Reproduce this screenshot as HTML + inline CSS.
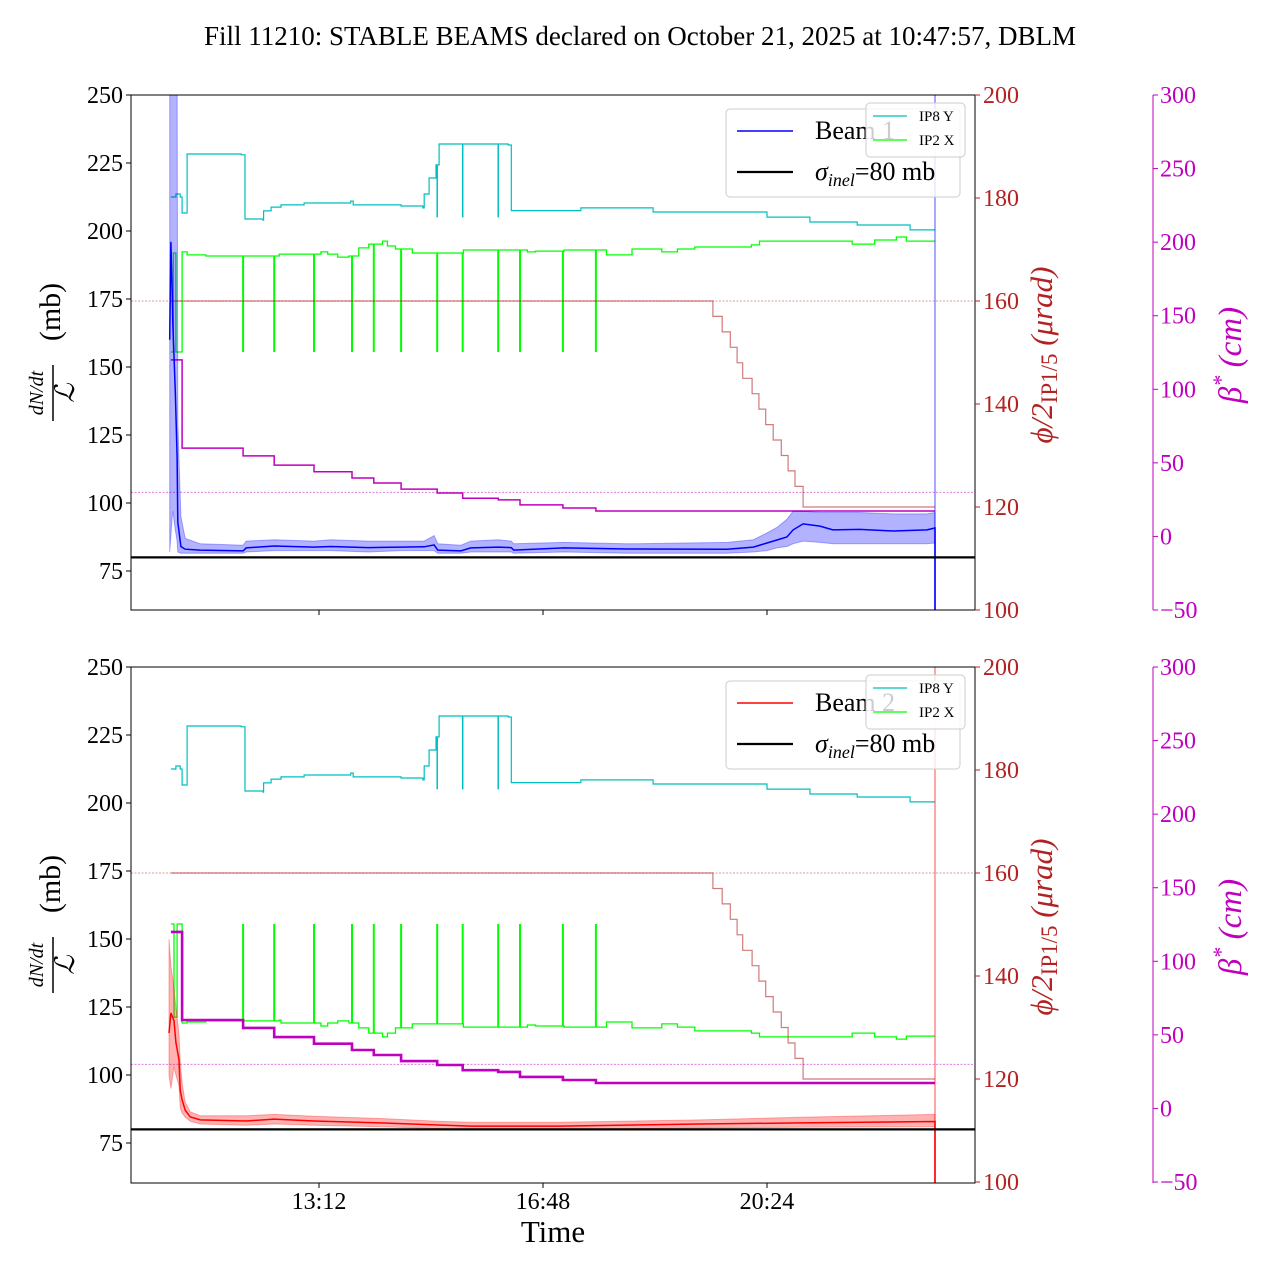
<!DOCTYPE html>
<html><head><meta charset="utf-8">
<style>
html,body{margin:0;padding:0;background:#fff;}
svg{display:block;font-family:"Liberation Serif","DejaVu Serif",serif;}
</style></head>
<body>
<svg id="chart" width="1280" height="1280" viewBox="0 0 1280 1280" xmlns="http://www.w3.org/2000/svg">
<rect x="0" y="0" width="1280" height="1280" fill="#fff"/>
<text x="640" y="45" font-size="27" text-anchor="middle">Fill 11210: STABLE BEAMS declared on October 21, 2025 at 10:47:57, DBLM</text>
<defs>
<clipPath id="clipTop"><rect x="131" y="95" width="844" height="515"/></clipPath>
<clipPath id="clipBot"><rect x="131" y="667" width="844" height="516"/></clipPath>
</defs>
<g id="panels"></g>
</svg>
<script>
// ---- data (time in hours of day) ----
const tickHours = [13.2, 16.8, 20.4];
const tickLabels = ["13:12", "16:48", "20:24"];
const leftTicks = [75, 100, 125, 150, 175, 200, 225, 250];
const redTicks = [100, 120, 140, 160, 180, 200];
const magTicks = [-50, 0, 50, 100, 150, 200, 250, 300];
const endHour = 23.10;
const sigmaInel = 80;
const phiRef = 160;
const betaRef = 30;

const cyanT = [10.82,10.90,10.97,11.00,11.08,11.95,12.01,12.30,12.31,12.43,12.59,12.96,13.71,13.75,14.52,14.87,14.89,14.97,15.08,15.13,16.24,16.29,17.41,18.57,20.40,21.09,21.85,22.70];
const cyanV = [212.5,213.6,212.5,206.6,228.3,228.0,204.4,204.0,207.4,208.8,209.6,210.3,211.0,209.6,209.2,208.5,213.6,219.5,224.3,232.0,231.6,207.5,208.5,207.0,205.1,203.3,202.2,200.4];
const cyanDipT = [15.10, 15.51, 16.08];
const cyanDipV = [205.0, 205.0, 205.0];

const spikeT = [11.98,12.48,13.12,13.73,14.08,14.52,15.10,15.51,16.08,16.43,17.12,17.65];
const spikeV = 155.5;

const green1T = [10.82,10.86,10.90,11.00,11.08,11.38,12.56,13.23,13.34,13.50,13.68,13.84,14.00,14.22,14.30,14.43,14.70,15.52,16.55,16.68,17.14,17.82,18.23,18.71,18.96,19.24,20.15,20.28,21.77,22.13,22.48,22.64];
const green1V = [155.5,191.9,155.5,192.3,191.2,190.8,191.5,192.3,191.5,190.4,190.8,193.8,195.2,196.3,194.5,193.4,191.9,193.0,192.3,192.6,193.0,191.2,193.4,192.3,193.4,194.1,194.9,196.3,195.2,196.7,197.8,196.3];

const green2T = [10.82,10.87,10.92,11.00,11.08,11.38,12.56,12.59,13.23,13.34,13.50,13.68,13.84,14.00,14.22,14.30,14.43,14.70,15.52,16.55,16.68,17.14,17.82,18.23,18.71,18.96,19.24,20.15,20.28,21.77,22.13,22.48,22.64];
const green2V = [155.5,121.3,155.5,119.1,119.5,119.9,120.2,119.1,118.0,119.1,119.9,119.1,117.3,115.4,114.0,115.4,117.3,118.8,117.6,118.4,118.0,117.6,119.5,117.3,118.8,117.6,116.2,115.4,114.0,115.4,114.0,113.2,114.3];

const phiT = [10.82,19.53,19.68,19.81,19.92,20.01,20.16,20.27,20.38,20.50,20.63,20.74,20.85,20.98];
const phiV = [160,157,154,151,148,145,142,139,136,133,130,127,124,120];

const betaT = [10.82,11.00,11.98,12.48,13.12,13.73,14.08,14.52,15.10,15.51,16.08,16.43,17.12,17.65];
const betaV = [120,60,54.7,48.5,44,39.7,36.3,32.2,29.5,26,24.8,21.4,19.3,17.3];

const lum1T = [10.80,10.82,10.84,10.85,10.89,10.92,10.93,10.98,11.05,11.29,11.98,12.03,12.48,13.12,13.39,13.99,14.52,14.89,15.05,15.11,15.48,15.64,16.08,16.29,16.33,17.14,18.15,19.76,20.18,20.40,20.56,20.72,20.82,20.98,21.25,21.46,21.89,22.43,22.97,23.10];
const lum1V = [160,196,178,166,141,117,93,84,83,82.7,82.4,83.5,84.2,83.8,84,83.6,83.8,83.9,84.6,82.7,82.4,83.5,83.8,83.6,82.7,83.5,83.1,83.0,83.8,85.3,86.4,87.5,90.1,92.3,91.5,90.1,90.3,89.7,90.1,90.8];
const lum1Hi = [265,265,265,265,265,265,130,95,87,85,84.5,86,86.5,86,86.5,86,86,86,88,85,84.5,86,86.5,86,85,85.5,85,85.5,86.5,89,91,94,97,97,96.5,96.5,96.5,96,96,96.5];
const lum1Lo = [82,88,95,97,90,86,82,81.5,81.5,81.5,81.5,82,82.5,82.5,82.5,82,82.5,82.5,82.5,81.5,81.5,82,82,82,81.5,82,81.5,81.5,82,82.5,83.5,84,85,86,85.5,85,85,85,85,85.3];

const lum2T = [10.79,10.82,10.87,10.90,10.95,10.97,11.00,11.05,11.13,11.29,12.03,12.48,13.12,14.18,15.11,15.64,17.07,19.32,20.93,23.10];
const lum2V = [115.4,122.8,120,112,105.5,94.5,90.8,87.1,84.6,83.5,83.1,83.8,83.1,82.4,81.6,81.2,81.2,82.0,82.4,82.9];
const lum2Hi = [150,140,132,125,115,105,97,90,86.5,85,85,85.5,84.8,84,83,82.6,82.6,83.5,84.5,85.5];
const lum2Lo = [100,95,103,100,96,88,86,84.5,83,82,81.5,82,81.5,81,80.3,80,80,80.5,80.8,81];

// ---- scales ----
const NS = "http://www.w3.org/2000/svg";
function X(h){ return 319 + (h - 13.2) * 62.22; }
function YL(v, oy){ return oy + 571 - (v - 75) * 2.72; }
function YR(v, oy){ return oy + 610 - (v - 100) * 5.15; }
function YM(v, oy){ return oy + 610 - (v + 50) * 1.4714; }

function mk(tag, attrs, parent){
  const e = document.createElementNS(NS, tag);
  for (const k in attrs) e.setAttribute(k, attrs[k]);
  parent.appendChild(e);
  return e;
}
function stepPath(T, V, fy, endT){
  let d = "M" + X(T[0]).toFixed(1) + "," + fy(V[0]).toFixed(1);
  for (let i = 1; i < T.length; i++){
    d += "H" + X(T[i]).toFixed(1) + "V" + fy(V[i]).toFixed(1);
  }
  d += "H" + X(endT).toFixed(1);
  return d;
}
function linePath(T, V, fy){
  let d = "";
  for (let i = 0; i < T.length; i++) d += (i ? "L" : "M") + X(T[i]).toFixed(1) + "," + fy(V[i]).toFixed(1);
  return d;
}
function stepAt(T, V, t){
  let v = V[0];
  for (let i = 0; i < T.length; i++) if (T[i] <= t) v = V[i];
  return v;
}

const root = document.getElementById("panels");

function panel(oy, lumT, lumV, lumHi, lumLo, lumColor, gT, gV, betaW, beamName, pname){
  const g = mk("g", {}, root);
  
  
  const plot = mk("g", {"clip-path": oy ? "url(#clipBot)" : "url(#clipTop)"}, g);
  
  
  const fyL = v => YL(v, oy), fyR = v => YR(v, oy), fyM = v => YM(v, oy);

  const cy = mk("path", {d: stepPath(cyanT, cyanV, fyL, endHour), fill: "none", stroke: "#00bfbf", "stroke-width": 1.2}, plot);
  
  
  let dd = "";
  for (let i = 0; i < cyanDipT.length; i++){
    dd += "M" + X(cyanDipT[i]).toFixed(1) + "," + fyL(stepAt(cyanT, cyanV, cyanDipT[i])).toFixed(1) + "V" + fyL(cyanDipV[i]).toFixed(1);
  }
  const cyd = mk("path", {d: dd, fill: "none", stroke: "#00bfbf", "stroke-width": 1.5}, plot);
  
  

  const gr = mk("path", {d: stepPath(gT, gV, fyL, endHour), fill: "none", stroke: "#00ff00", "stroke-width": 1.3}, plot);
  
  
  let sd = "";
  for (let i = 0; i < spikeT.length; i++){
    sd += "M" + X(spikeT[i]).toFixed(1) + "," + fyL(stepAt(gT, gV, spikeT[i])).toFixed(1) + "V" + fyL(spikeV).toFixed(1);
  }
  const grs = mk("path", {d: sd, fill: "none", stroke: "#00ff00", "stroke-width": 2}, plot);
  
  

  const rr = mk("line", {x1: 131, x2: 975, y1: fyR(phiRef), y2: fyR(phiRef), stroke: "#b22222", "stroke-width": 0.8, "stroke-dasharray": "2,1.5", opacity: 0.6}, plot);
  
  
  const mr = mk("line", {x1: 131, x2: 975, y1: fyM(betaRef), y2: fyM(betaRef), stroke: "#bf00bf", "stroke-width": 0.8, "stroke-dasharray": "2,1.5", opacity: 0.6}, plot);
  
  

  const ph = mk("path", {d: stepPath(phiT, phiV, fyR, endHour), fill: "none", stroke: "#b22222", "stroke-width": 1.2, opacity: 0.6}, plot);
  
  

  const bt = mk("path", {d: stepPath(betaT, betaV, fyM, endHour), fill: "none", stroke: "#bf00bf", "stroke-width": betaW}, plot);
  
  

  let bd = "";
  for (let i = 0; i < lumT.length; i++) bd += (i ? "L" : "M") + X(lumT[i]).toFixed(1) + "," + fyL(lumHi[i]).toFixed(1);
  for (let i = lumT.length - 1; i >= 0; i--) bd += "L" + X(lumT[i]).toFixed(1) + "," + fyL(lumLo[i]).toFixed(1);
  bd += "Z";
  const band = mk("path", {d: bd, fill: lumColor, "fill-opacity": 0.3, stroke: lumColor, "stroke-opacity": 0.3, "stroke-width": 1}, plot);
  
  
  const ln = mk("path", {d: linePath(lumT, lumV, fyL) + "V" + (oy + 640), fill: "none", stroke: lumColor, "stroke-width": 1.5}, plot);
  
  
  const endl = mk("line", {x1: X(endHour), x2: X(endHour), y1: oy + 95, y2: oy + 612, stroke: lumColor, "stroke-opacity": 0.35, "stroke-width": 2}, plot);
  
  

  const sg = mk("line", {x1: 131, x2: 975, y1: fyL(sigmaInel), y2: fyL(sigmaInel), stroke: "#000", "stroke-width": 2.2}, plot);
  
  

  const fr = mk("rect", {x: 131, y: oy + 95, width: 844, height: oy ? 516 : 515, fill: "none", stroke: "#000", "stroke-width": 1}, g);
  
  
  const bottomY = oy ? 1183 : 610;

  for (let i = 0; i < leftTicks.length; i++){
    const y = fyL(leftTicks[i]);
    const tk = mk("line", {x1: 126, x2: 131, y1: y, y2: y, stroke: "#000", "stroke-width": 1}, g);
    
    
    const tl = mk("text", {x: 123, y: y + 8, "font-size": 24, "text-anchor": "end"}, g);
    tl.textContent = leftTicks[i];
    
    
  }
  for (let i = 0; i < redTicks.length; i++){
    const y = fyR(redTicks[i]);
    const tk = mk("line", {x1: 975, x2: 980, y1: y, y2: y, stroke: "#b22222", "stroke-width": 1}, g);
    
    
    const tl = mk("text", {x: 983, y: y + 8, "font-size": 24, fill: "#b22222"}, g);
    tl.textContent = redTicks[i];
    
    
  }
  const ms = mk("line", {x1: 1153, x2: 1153, y1: oy + 95, y2: bottomY, stroke: "#bf00bf", "stroke-width": 1}, g);
  
  
  for (let i = 0; i < magTicks.length; i++){
    const y = fyM(magTicks[i]);
    const tk = mk("line", {x1: 1153, x2: 1158, y1: y, y2: y, stroke: "#bf00bf", "stroke-width": 1}, g);
    
    
    const tl = mk("text", {x: 1160, y: y + 8, "font-size": 24, fill: "#bf00bf"}, g);
    tl.textContent = magTicks[i] < 0 ? "\u2212" + Math.abs(magTicks[i]) : magTicks[i];
    
    
  }
  for (let i = 0; i < tickHours.length; i++){
    const x = X(tickHours[i]);
    const tk = mk("line", {x1: x, x2: x, y1: bottomY, y2: bottomY + 5, stroke: "#000", "stroke-width": 1}, g);
    
    
    if (oy){
      const tl = mk("text", {x: x, y: 1209, "font-size": 24, "text-anchor": "middle"}, g);
      tl.textContent = tickLabels[i];
      
      
    }
  }
}

panel(0, lum1T, lum1V, lum1Hi, lum1Lo, "#0000ff", green1T, green1V, 1.5, "Beam 1", "top-panel");
panel(572, lum2T, lum2V, lum2Hi, lum2Lo, "#ff0000", green2T, green2V, 2.6, "Beam 2", "bottom-panel");
</script>
<script>
(function(){
  const NS = "http://www.w3.org/2000/svg";
  const svg = document.getElementById("chart");
  function addMarkup(s){ const g = document.createElementNS(NS, "g"); g.innerHTML = s; svg.appendChild(g); return g; }
  [0, 572].forEach(function(oy, idx){
    const beam = idx ? "Beam 2" : "Beam 1";
    const col = idx ? "#ff0000" : "#0000ff";
    addMarkup(
      '<g transform="translate(50,' + (355 + oy) + ') rotate(-90)">' +
        '<text x="-38" y="-7" font-size="20" font-style="italic" text-anchor="middle">dN/dt</text>' +
        '<line x1="-66" x2="-10" y1="3" y2="3" stroke="#000" stroke-width="1.5"/>' +
        '<text x="-38" y="24" font-size="27" font-style="italic" text-anchor="middle" font-family="DejaVu Serif, serif">ℒ</text>' +
        '<text x="43" y="10" font-size="30" text-anchor="middle">(mb)</text>' +
      '</g>' +
      '<g transform="translate(1052,' + (355 + oy) + ') rotate(-90)">' +
        '<text x="0" y="0" font-size="31" fill="#b22222" text-anchor="middle"><tspan font-style="italic">ϕ/2</tspan><tspan font-size="23" dy="5">IP1/5</tspan><tspan dy="-5" font-style="italic"> (μrad)</tspan></text>' +
      '</g>' +
      '<g transform="translate(1241,' + (355 + oy) + ') rotate(-90)">' +
        '<text x="0" y="0" font-size="33" fill="#bf00bf" text-anchor="middle" font-style="italic">β<tspan font-size="22" dy="-13">*</tspan><tspan dy="13"> (cm)</tspan></text>' +
      '</g>' +
      '<g>' +
        '<rect x="726" y="' + (109 + oy) + '" width="234" height="88" rx="4" fill="#fff" fill-opacity="0.8" stroke="#ccc" stroke-width="1"/>' +
        '<line x1="737" x2="793" y1="' + (131 + oy) + '" y2="' + (131 + oy) + '" stroke="' + col + '" stroke-width="1.5"/>' +
        '<text x="815" y="' + (139 + oy) + '" font-size="26">' + beam + '</text>' +
        '<line x1="737" x2="793" y1="' + (172 + oy) + '" y2="' + (172 + oy) + '" stroke="#000" stroke-width="2.2"/>' +
        '<text x="815" y="' + (180 + oy) + '" font-size="26"><tspan font-style="italic">σ</tspan><tspan font-style="italic" font-size="18" dy="6">inel</tspan><tspan dy="-6">=80 mb</tspan></text>' +
      '</g>' +
      '<g>' +
        '<rect x="866" y="' + (103 + oy) + '" width="99" height="54" rx="4" fill="#fff" fill-opacity="0.8" stroke="#ccc" stroke-width="1"/>' +
        '<line x1="873" x2="907" y1="' + (116 + oy) + '" y2="' + (116 + oy) + '" stroke="#00bfbf" stroke-width="1.2"/>' +
        '<text x="919" y="' + (121 + oy) + '" font-size="15">IP8 Y</text>' +
        '<line x1="873" x2="907" y1="' + (140 + oy) + '" y2="' + (140 + oy) + '" stroke="#00ff00" stroke-width="1.2"/>' +
        '<text x="919" y="' + (145 + oy) + '" font-size="15">IP2 X</text>' +
      '</g>'
    );
  });
  addMarkup('<text x="553" y="1242" font-size="31" text-anchor="middle">Time</text>');
})();
</script>
</body></html>
